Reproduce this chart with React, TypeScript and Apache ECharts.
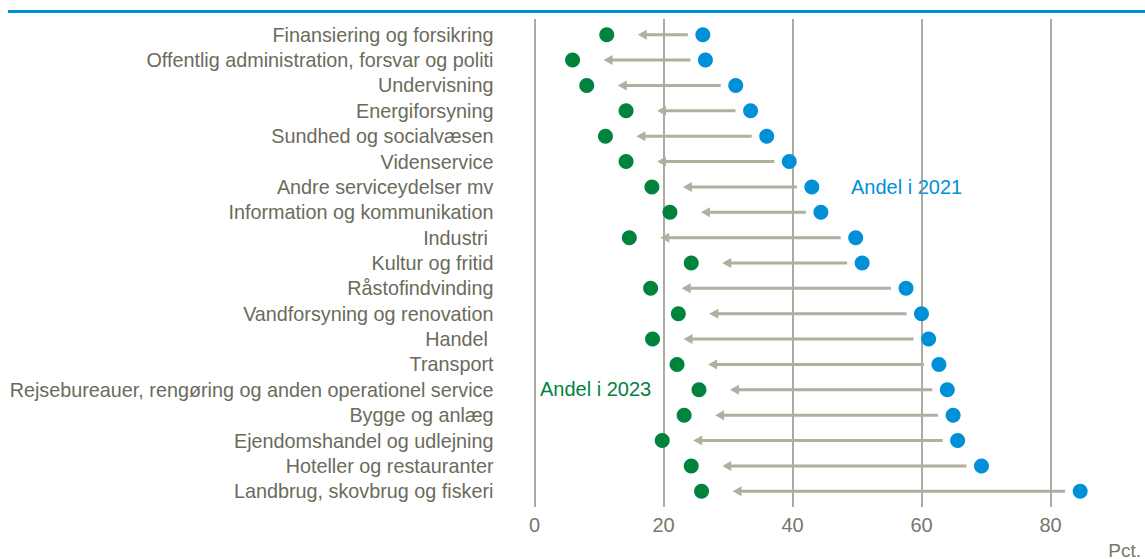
import React, { useEffect, useRef } from "react";
import * as echarts from "echarts";

const categories = [
  "Finansiering og forsikring",
  "Offentlig administration, forsvar og politi",
  "Undervisning",
  "Energiforsyning",
  "Sundhed og socialvæsen",
  "Videnservice",
  "Andre serviceydelser mv",
  "Information og kommunikation",
  "Industri ",
  "Kultur og fritid",
  "Råstofindvinding",
  "Vandforsyning og renovation",
  "Handel ",
  "Transport",
  "Rejsebureauer, rengøring og anden operationel service",
  "Bygge og anlæg",
  "Ejendomshandel og udlejning",
  "Hoteller og restauranter",
  "Landbrug, skovbrug og fiskeri",
];

const share2023 = [11.2, 5.9, 8.1, 14.2, 11.0, 14.2, 18.2, 21.0, 14.7, 24.3, 18.0, 22.3, 18.3, 22.1, 25.5, 23.2, 19.8, 24.3, 25.9];
const share2021 = [26.1, 26.5, 31.2, 33.5, 36.0, 39.5, 43.0, 44.4, 49.8, 50.8, 57.6, 60.0, 61.1, 62.7, 64.0, 64.9, 65.6, 69.3, 84.6];

const xTicks = { min: 0, max: 100, interval: 20 };
const label2021 = "Andel i 2021";
const label2023 = "Andel i 2023";
const unitLabel = "Pct.";

const GREEN = "#00843d";
const BLUE = "#0090d7";
const ARROW = "#b2afa0";
const TEXT = "#6b6b5b";
const FONT = "'Liberation Sans', Arial, sans-serif";

export default function App() {
  const ref = useRef<HTMLDivElement>(null);
  useEffect(() => {
    if (!ref.current) return;
    const chart = echarts.init(ref.current, null, { renderer: "svg" });
    const arrowData = categories.map((_, i) => [share2023[i], share2021[i], i]);
    const option: any = {
      animation: false,
      textStyle: { fontFamily: FONT },
      grid: [
        { left: 534.5, top: 19, width: 645, height: 488, outerBoundsMode: "none", containLabel: false },
        { left: 534.5, top: 22, width: 645, height: 482, outerBoundsMode: "none", containLabel: false },
      ],
      xAxis: [
        {
          gridIndex: 0,
          type: "value",
          min: xTicks.min,
          max: xTicks.max,
          interval: xTicks.interval,
          axisLine: { show: false },
          axisTick: { show: false },
          axisLabel: { color: "#77776a", fontSize: 20, margin: 8, fontFamily: FONT, showMaxLabel: false },
          splitLine: { show: true, lineStyle: { color: "#8f8e84", width: 1.5 } },
        },
        {
          gridIndex: 1,
          type: "value",
          min: xTicks.min,
          max: xTicks.max,
          show: false,
          splitLine: { show: false },
        },
      ],
      yAxis: [
        { gridIndex: 0, type: "value", show: false, splitLine: { show: false } },
        {
          gridIndex: 1,
          type: "category",
          data: categories,
          inverse: true,
          axisLine: { show: false },
          axisTick: { show: false },
          splitLine: { show: false },
          axisLabel: { color: TEXT, fontSize: 19.8, margin: 41, fontFamily: FONT, interval: 0 },
        },
      ],
      series: [
        {
          type: "custom",
          xAxisIndex: 1,
          yAxisIndex: 1,
          data: arrowData,
          encode: { x: [0, 1], y: 2 },
          renderItem: (params: any, api: any) => {
            const g = api.value(0);
            const b = api.value(1);
            const idx = api.value(2);
            const pg = api.coord([g, idx]);
            const pb = api.coord([b, idx]);
            const y = pg[1];
            const tail = pb[0] - 15;
            const head = pg[0] + 31;
            return {
              type: "group",
              children: [
                {
                  type: "line",
                  shape: { x1: head + 6, y1: y, x2: tail, y2: y },
                  style: { stroke: ARROW, lineWidth: 3 },
                },
                {
                  type: "polygon",
                  shape: { points: [[head, y], [head + 9, y - 5], [head + 9, y + 5]] },
                  style: { fill: ARROW },
                },
              ],
            };
          },
          silent: true,
        },
        {
          type: "scatter",
          xAxisIndex: 1,
          yAxisIndex: 1,
          symbol: "circle",
          symbolSize: 15,
          itemStyle: { color: GREEN, opacity: 1 },
          data: share2023.map((v, i) => [v, i]),
        },
        {
          type: "scatter",
          xAxisIndex: 1,
          yAxisIndex: 1,
          symbol: "circle",
          symbolSize: 15,
          itemStyle: { color: BLUE, opacity: 1 },
          data: share2021.map((v, i) => [v, i]),
        },
      ],
      graphic: [
        { type: "rect", shape: { x: 8, y: 10, width: 1137, height: 3 }, style: { fill: BLUE } },
        {
          type: "text",
          x: 851,
          y: 187,
          style: { text: label2021, fill: BLUE, fontSize: 20, fontFamily: FONT, textVerticalAlign: "middle" },
        },
        {
          type: "text",
          x: 540,
          y: 389,
          style: { text: label2023, fill: GREEN, fontSize: 20, fontFamily: FONT, textVerticalAlign: "middle" },
        },
        {
          type: "text",
          x: 1141,
          y: 550,
          style: {
            text: unitLabel,
            fill: "#77776a",
            fontSize: 19,
            fontFamily: FONT,
            textAlign: "right",
            textVerticalAlign: "middle",
          },
        },
      ],
    };
    chart.setOption(option);
    return () => chart.dispose();
  }, []);
  return (
    <div
      ref={ref}
      style={{ position: "fixed", left: 0, top: 0, width: 1145, height: 559, background: "#fff" }}
    />
  );
}
